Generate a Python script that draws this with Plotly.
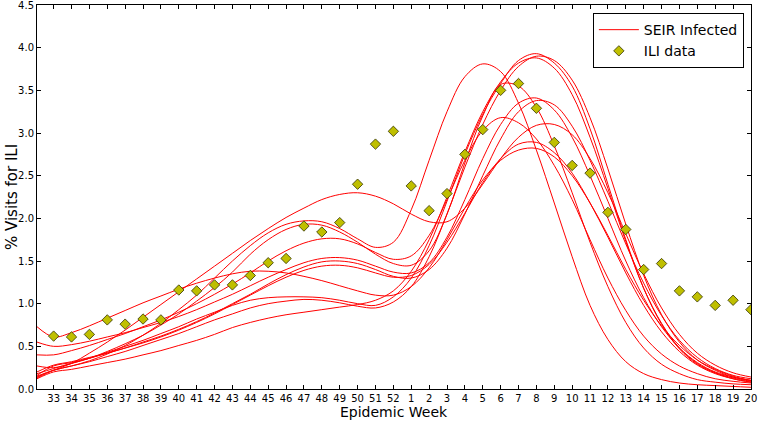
import plotly.graph_objects as go

# Epidemic week tick labels (index 0..39)
week_labels = [str(w) for w in list(range(33, 53)) + list(range(1, 21))]
week_index = list(range(len(week_labels)))

# ILI data (% visits for ILI) per epidemic week
ili_values = [0.62, 0.61, 0.64, 0.81, 0.76, 0.82, 0.81, 1.16, 1.15, 1.22,
              1.22, 1.33, 1.48, 1.53, 1.91, 1.84, 1.95, 2.40, 2.87, 3.02,
              2.38, 2.09, 2.29, 2.75, 3.04, 3.50, 3.58, 3.29, 2.89, 2.62,
              2.53, 2.07, 1.87, 1.40, 1.47, 1.15, 1.08, 0.98, 1.04, 0.93]

# SEIR model sample times (week index; first value = model start)
seir_t = [-0.93] + week_index

# SEIR infected curves (value at start, then at each week)
seir_1 = [0.14, 0.22, 0.27, 0.33, 0.41, 0.51, 0.63, 0.77, 0.93, 1.10, 1.30, 1.50, 1.68, 1.83, 1.93, 1.97, 1.96, 1.88, 1.76, 1.66, 1.72,
          2.10, 2.68, 3.25, 3.66, 3.81, 3.72, 3.35, 2.80, 2.18, 1.55, 0.98, 0.58, 0.32, 0.18, 0.11, 0.07, 0.05, 0.04, 0.03, 0.02]
seir_2 = [0.13, 0.22, 0.30, 0.42, 0.55, 0.69, 0.84, 0.99, 1.14, 1.29, 1.44, 1.59, 1.74, 1.88, 2.01, 2.12, 2.22, 2.28, 2.30, 2.26, 2.17,
          2.05, 1.96, 1.96, 2.12, 2.40, 2.70, 2.95, 3.09, 3.10, 2.98, 2.70, 2.30, 1.82, 1.35, 0.95, 0.64, 0.42, 0.28, 0.19, 0.14]
seir_3 = [0.27, 0.25, 0.30, 0.36, 0.44, 0.53, 0.63, 0.75, 0.88, 1.03, 1.19, 1.37, 1.58, 1.75, 1.87, 1.93, 1.92, 1.84, 1.72, 1.58, 1.47,
          1.45, 1.62, 2.05, 2.65, 3.20, 3.57, 3.55, 3.30, 2.85, 2.30, 1.72, 1.20, 0.78, 0.48, 0.29, 0.18, 0.11, 0.08, 0.06, 0.05]
seir_4 = [0.40, 0.40, 0.45, 0.51, 0.58, 0.65, 0.73, 0.81, 0.90, 1.00, 1.11, 1.23, 1.36, 1.50, 1.62, 1.71, 1.76, 1.76, 1.70, 1.60, 1.52,
          1.56, 1.80, 2.22, 2.68, 3.03, 3.18, 3.12, 2.93, 2.62, 2.22, 1.75, 1.30, 0.92, 0.62, 0.41, 0.27, 0.18, 0.12, 0.09, 0.07]
seir_5 = [0.55, 0.50, 0.52, 0.56, 0.61, 0.66, 0.72, 0.78, 0.85, 0.93, 1.02, 1.11, 1.21, 1.31, 1.40, 1.48, 1.53, 1.54, 1.51, 1.44, 1.37,
          1.36, 1.48, 1.78, 2.22, 2.70, 3.10, 3.35, 3.41, 3.27, 2.95, 2.50, 2.00, 1.50, 1.07, 0.73, 0.48, 0.31, 0.20, 0.14, 0.10]
seir_6 = [0.16, 0.27, 0.31, 0.36, 0.42, 0.48, 0.55, 0.62, 0.70, 0.79, 0.89, 1.00, 1.11, 1.23, 1.34, 1.43, 1.49, 1.50, 1.47, 1.40, 1.32,
          1.30, 1.40, 1.65, 2.05, 2.50, 2.93, 3.25, 3.38, 3.33, 3.08, 2.68, 2.20, 1.70, 1.24, 0.86, 0.57, 0.37, 0.24, 0.16, 0.12]
seir_7 = [0.73, 0.61, 0.66, 0.74, 0.83, 0.92, 1.01, 1.09, 1.17, 1.24, 1.30, 1.35, 1.38, 1.38, 1.36, 1.32, 1.27, 1.21, 1.15, 1.10, 1.10,
          1.20, 1.42, 1.75, 2.12, 2.45, 2.68, 2.80, 2.82, 2.72, 2.50, 2.18, 1.80, 1.40, 1.04, 0.74, 0.51, 0.34, 0.23, 0.15, 0.10]
seir_8 = [0.18, 0.24, 0.30, 0.36, 0.43, 0.50, 0.57, 0.65, 0.73, 0.82, 0.90, 0.98, 1.04, 1.07, 1.08, 1.08, 1.07, 1.04, 1.00, 0.98, 1.08,
          1.30, 1.68, 2.20, 2.75, 3.22, 3.58, 3.85, 3.93, 3.82, 3.55, 3.05, 2.40, 1.75, 1.18, 0.76, 0.47, 0.29, 0.19, 0.13, 0.09]
seir_9 = [0.15, 0.22, 0.27, 0.32, 0.38, 0.44, 0.51, 0.58, 0.65, 0.73, 0.81, 0.88, 0.95, 1.00, 1.03, 1.05, 1.04, 1.01, 0.97, 0.95, 1.02,
          1.20, 1.55, 2.05, 2.60, 3.10, 3.50, 3.78, 3.90, 3.85, 3.62, 3.18, 2.58, 1.93, 1.33, 0.87, 0.55, 0.34, 0.22, 0.14, 0.10]
seir_10 = [0.12, 0.20, 0.23, 0.27, 0.31, 0.35, 0.40, 0.45, 0.51, 0.57, 0.64, 0.72, 0.78, 0.83, 0.87, 0.90, 0.93, 0.96, 0.99, 1.04, 1.15,
           1.38, 1.75, 2.25, 2.78, 3.25, 3.60, 3.82, 3.88, 3.76, 3.45, 2.95, 2.35, 1.73, 1.18, 0.77, 0.48, 0.30, 0.19, 0.12, 0.08]
seir_11 = [0.20, 0.28, 0.32, 0.37, 0.42, 0.48, 0.54, 0.61, 0.69, 0.78, 0.88, 0.99, 1.10, 1.21, 1.31, 1.39, 1.44, 1.45, 1.42, 1.36, 1.31,
           1.33, 1.46, 1.72, 2.06, 2.42, 2.70, 2.87, 2.89, 2.77, 2.53, 2.18, 1.78, 1.36, 0.98, 0.67, 0.44, 0.28, 0.18, 0.12, 0.08]

seir_curves = [seir_1, seir_2, seir_3, seir_4, seir_5, seir_6, seir_7, seir_8, seir_9, seir_10, seir_11]

y_ticks = [0, 0.5, 1, 1.5, 2, 2.5, 3, 3.5, 4, 4.5]
y_tick_labels = ["0.0", "0.5", "1.0", "1.5", "2.0", "2.5", "3.0", "3.5", "4.0", "4.5"]

fig = go.Figure()
for k, curve in enumerate(seir_curves):
    fig.add_trace(go.Scatter(
        x=seir_t, y=curve, mode="lines",
        line=dict(color="#ff0000", width=1, shape="spline", smoothing=1.0),
        name="SEIR Infected", legendgroup="seir", showlegend=(k == 0),
        hoverinfo="skip"))

fig.add_trace(go.Scatter(
    x=week_index, y=ili_values, mode="markers", name="ILI data",
    marker=dict(symbol="diamond", size=8, color="#bfbf00",
                line=dict(color="#333300", width=0.8))))

axis_font = dict(family="DejaVu Sans", size=10, color="black")
fig.update_layout(
    width=759, height=421,
    margin=dict(l=37, r=8, t=5, b=32),
    paper_bgcolor="white", plot_bgcolor="white",
    font=dict(family="DejaVu Sans", color="black"),
    showlegend=True,
    legend=dict(x=0.99, y=0.979, xanchor="right", yanchor="top",
                bordercolor="black", borderwidth=1, bgcolor="white",
                font=dict(family="DejaVu Sans", size=14, color="black"),
                tracegroupgap=0, itemwidth=40),
    xaxis=dict(range=[-0.93, 39.002], tickmode="array", tickvals=week_index,
               ticktext=week_labels, ticks="inside", ticklen=4, tickcolor="black",
               showline=True, linecolor="black", linewidth=1, mirror="allticks",
               showgrid=False, zeroline=False, tickfont=axis_font,
               ticklabeloverflow="allow", automargin=False),
    yaxis=dict(range=[0, 4.5003], tickmode="array",
               tickvals=y_ticks, ticktext=y_tick_labels,
               ticks="inside", ticklen=4, tickcolor="black",
               showline=True, linecolor="black", linewidth=1, mirror="allticks",
               showgrid=False, zeroline=False, tickfont=axis_font,
               ticklabeloverflow="allow", automargin=False),
    annotations=[
        dict(text="Epidemic Week", xref="paper", yref="paper", x=0.5, y=-0.0605,
             xanchor="center", yanchor="middle", showarrow=False,
             font=dict(family="DejaVu Sans", size=14, color="black")),
        dict(text="% Visits for ILI", xref="paper", yref="paper", x=-0.035, y=0.5,
             xanchor="center", yanchor="middle", textangle=-90, showarrow=False,
             font=dict(family="DejaVu Sans", size=15, color="black")),
    ],
)

fig.write_html("out.html", config={"displayModeBar": False},
               post_script="document.body.style.margin='0';")
